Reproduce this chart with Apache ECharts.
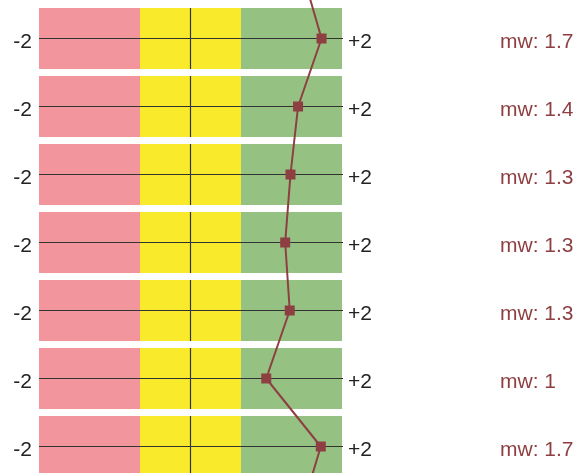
<!DOCTYPE html>
<html>
<head>
<meta charset="utf-8">
<script src="https://cdn.jsdelivr.net/npm/echarts@6/dist/echarts.min.js"></script>
<style>
  html, body { margin: 0; padding: 0; background: #fff; }
  #chart { width: 588px; height: 473px; }
</style>
</head>
<body>
<div id="chart"></div>
<script>
    // rows, incl. the two cut off at the top and bottom edge
    var rows = ['r0', 'r1', 'r2', 'r3', 'r4', 'r5', 'r6', 'r7', 'r8'];
    var visible = [false, true, true, true, true, true, true, true, false];
    var means = [1.47, 1.73, 1.42, 1.32, 1.25, 1.31, 1.0, 1.72, 1.45];
    var mwLabels = ['', '1.7', '1.4', '1.3', '1.3', '1.3', '1', '1.7', ''];
    var scaleMin = -2;
    var scaleMax = 2;
    var bandEdges = [-2, -2 / 3, 2 / 3, 2];
    var bandColors = ['#f2959c', '#f9eb2c', '#95c283'];

    var chart = echarts.init(document.getElementById('chart'));

    var bandData = [];
    for (var i = 0; i < rows.length; i++) {
        if (visible[i]) bandData.push([i, mwLabels[i]]);
    }

    var labelFont = '21px "Liberation Sans", Arial, sans-serif';

    function renderRow(params, api) {
        var row = api.value(0);
        var mw = api.value(1);
        var left = api.coord([scaleMin, row]);
        var right = api.coord([scaleMax, row]);
        var mid = api.coord([0, row]);
        var h = 61;
        var cy = left[1];
        var children = [];
        for (var b = 0; b < 3; b++) {
            var p0 = api.coord([bandEdges[b], row]);
            var p1 = api.coord([bandEdges[b + 1], row]);
            children.push({
                type: 'rect',
                shape: { x: p0[0], y: cy - h / 2, width: p1[0] - p0[0], height: h },
                style: { fill: bandColors[b] }
            });
        }
        // mittellinie horizontal + vertikal
        children.push({
            type: 'line',
            shape: { x1: left[0], y1: cy, x2: right[0] + 1, y2: cy },
            style: { stroke: '#333', lineWidth: 1.2 }
        });
        children.push({
            type: 'line',
            shape: { x1: mid[0], y1: cy - h / 2, x2: mid[0], y2: cy + h / 2 },
            style: { stroke: '#333', lineWidth: 1.2 }
        });
        children.push({
            type: 'text',
            style: { x: left[0] - 7, y: cy + 4, text: String(scaleMin), align: 'right', verticalAlign: 'middle',
                fill: '#222', font: labelFont }
        });
        children.push({
            type: 'text',
            style: { x: right[0] + 6, y: cy + 4, text: '+' + scaleMax, align: 'left', verticalAlign: 'middle',
                fill: '#222', font: labelFont }
        });
        children.push({
            type: 'text',
            style: { x: 500, y: cy + 4, text: 'mw: ' + mw, align: 'left', verticalAlign: 'middle',
                fill: '#8e3f42', font: labelFont }
        });
        return { type: 'group', children: children };
    }

    var option = {
        animation: false,
        grid: {
            left: 39,
            right: 246,
            top: -63.5,
            height: 612,
            outerBoundsMode: 'none'
        },
        xAxis: {
            type: 'value',
            min: scaleMin,
            max: scaleMax,
            show: false
        },
        yAxis: {
            type: 'category',
            data: rows,
            inverse: true,
            show: false
        },
        series: [
            {
                type: 'custom',
                renderItem: renderRow,
                encode: { y: 0 },
                data: bandData,
                z: 1
            },
            {
                type: 'line',
                data: means,
                symbol: 'rect',
                symbolSize: 10,
                lineStyle: { color: '#8e3f42', width: 2 },
                itemStyle: { color: '#8e3f42' },
                z: 5
            }
        ]
    };
    chart.setOption(option);
</script>
</body>
</html>
